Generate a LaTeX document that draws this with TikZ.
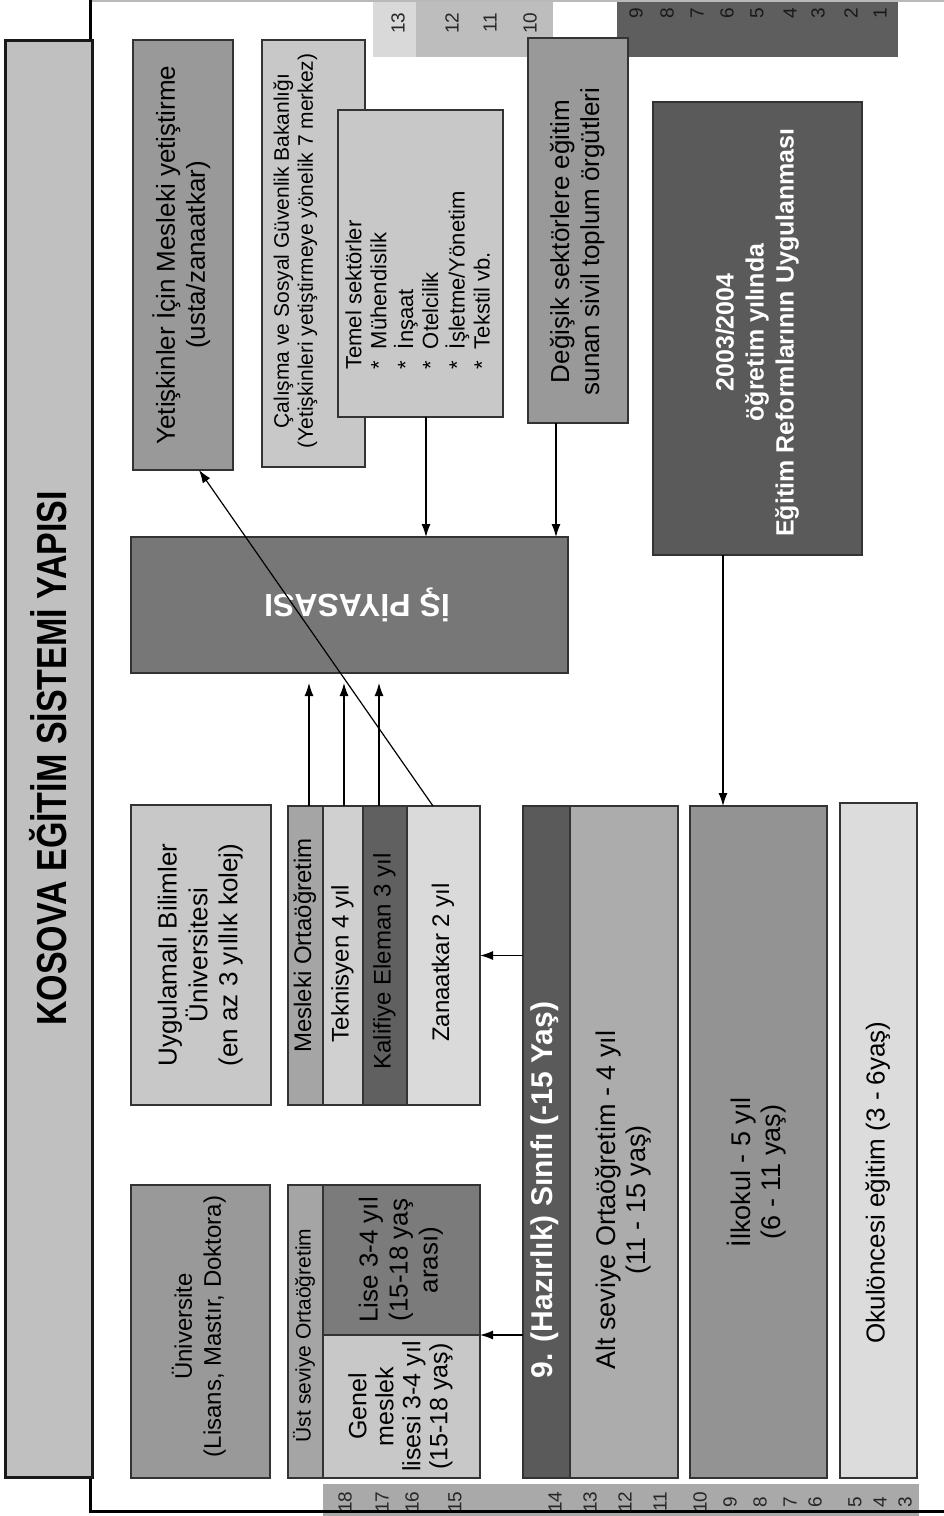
\documentclass[tikz,border=0pt]{standalone}
\usepackage{fontspec}
\setmainfont{Liberation Sans}
\usetikzlibrary{arrows.meta,calc}
\definecolor{cTitle}{HTML}{C0C0C0}
\definecolor{cMid}{HTML}{999999}
\definecolor{cLight}{HTML}{C8C8C8}
\definecolor{cRef}{HTML}{5A5A5A}
\definecolor{cIs}{HTML}{777777}
\definecolor{cMes}{HTML}{A5A5A5}
\definecolor{cTek}{HTML}{D0D0D0}
\definecolor{cKal}{HTML}{606060}
\definecolor{cZan}{HTML}{DADADA}
\definecolor{cLis}{HTML}{7B7B7B}
\definecolor{cAlt}{HTML}{ACACAC}
\definecolor{cIlk}{HTML}{939393}
\definecolor{cOku}{HTML}{DCDCDC}
\definecolor{cTa}{HTML}{D9D9D9}
\definecolor{cTb}{HTML}{BDBDBD}
\definecolor{cTdark}{HTML}{5E5E5E}
\definecolor{cBot}{HTML}{A9A9A9}
\definecolor{cLine}{HTML}{333333}
% rotated multi-line text; optional arg: extra space at the (page) top end
\newcommand\rt[2][0pt]{\rotatebox{90}{\begin{tabular}{@{}c@{}}#2\end{tabular}\hspace*{#1}}}
\newcommand\rtl[2][0pt]{\rotatebox{90}{\begin{tabular}{@{}l@{}}#2\end{tabular}\hspace*{#1}}}
\newcommand\bul{{*}\hspace{12pt}}
\begin{document}
\begin{tikzpicture}[x=1pt,y=-1pt,
  bx/.style={draw=cLine, line width=1.2pt, inner sep=0pt, outer sep=0pt, align=center, text=black},
  fa/.style={font=\fontsize{26}{30}\selectfont},
  fb/.style={font=\fontsize{24}{28}\selectfont},
  arr/.style={draw=black, line width=1.2pt, -{Latex[length=13pt,width=9pt]}},
  num/.style={font=\fontsize{19}{19}\selectfont, text=black!85, inner sep=0pt, rotate=90}
]
\useasboundingbox (0,0) rectangle (944,1516);
\fill[white] (0,0) rectangle (944,1516);

% age scales
\fill[cTa] (373,0) rectangle (416,57);
\fill[cTb] (416,0) rectangle (553,57);
\fill[cTdark] (617,0) rectangle (898,57);
\fill[cBot] (323,1484) rectangle (919,1516);
\foreach \n/\x in {13/398,12/452,11/490,10/530}
  \node[num] (t\n) at (\x,23) {\n};
\foreach \n/\x in {9/636,8/667,7/697,6/727,5/757,4/790,3/818,2/851,1/880}
  \node[num, text=black!90] (t\n) at (\x,13) {\n};
\foreach \n/\x in {18/345,17/382,16/412,15/455,14/555,13/590,12/625,11/660,10/700,9/730,8/760,7/790,6/815,5/855,4/880,3/905}
  \node[num] (b\n) at (\x,1502) {\n};

% frame
\draw[gray!55, line width=1.5pt] (90,1) -- (944,1);
\draw[black, line width=3pt] (90,0) -- (90,1511) -- (944,1511);

% title
\node[bx, draw=black!90, line width=3pt, fill=cTitle, minimum width=87pt, minimum height=1437pt] (title) at (48.5,758.5)
  {\rotatebox{90}{\fontsize{42}{42}\selectfont\bfseries\scalebox{0.81}[1]{KOSOVA EĞİTİM SİSTEMİ YAPISI}}};

% top half
\node[bx, fa, fill=cMid, minimum width=100pt, minimum height=430pt] (yet) at (183,255)
  {\rt{Yetişkinler İçin Mesleki yetiştirme\\(usta/zanaatkar)}};
\node[bx, fill=cLight, minimum width=103pt, minimum height=427pt] (cal) at (313.5,253.5) {};
\node[font=\fontsize{21}{24}\selectfont, inner sep=0pt] (calT) at (296,251)
  {\rt{Çalışma ve Sosyal Güvenlik Bakanlığı\\(Yetişkinleri yetiştirmeye yönelik 7 merkez)}};
\node[bx, font=\fontsize{22}{25}\selectfont, fill=cLight, minimum width=165pt, minimum height=307pt] (tem) at (420.5,263.5)
  {\rtl[34pt]{Temel sektörler\\\bul Mühendislik\\\bul İnşaat\\\bul Otelcilik\\\bul İşletme/Yönetim\\\bul Tekstil vb.}};
\node[bx, fa, fill=cMid, minimum width=100pt, minimum height=385pt] (deg) at (578,230.5)
  {\rt[22pt]{Değişik sektörlere eğitim\\sunan sivil toplum örgütleri}};
\node[bx, font=\fontsize{25}{30}\selectfont\bfseries, text=white, fill=cRef, minimum width=209pt, minimum height=453pt] (ref) at (757.5,328.5)
  {\rt[8pt]{2003/2004\\öğretim yılında\\Eğitim Reformlarının Uygulanması}};
\node[bx, font=\fontsize{32}{32}\selectfont\bfseries, text=white, fill=cIs, minimum width=437pt, minimum height=136pt] (is) at (349.5,605)
  {\rotatebox{180}{İŞ PİYASASI\hspace*{15pt}}};

% higher education / vocational
\node[bx, font=\fontsize{24}{29}\selectfont, fill=cMid, minimum width=139pt, minimum height=293pt] (uni) at (200.5,1331.5)
  {\rt[-10pt]{Üniversite\\(Lisans, Mastır, Doktora)}};
\node[bx, fa, fill=cLight, minimum width=140pt, minimum height=300pt] (uyg) at (201,955)
  {\rt{Uygulamalı Bilimler\\Üniversitesi\\(en az 3 yıllık kolej)}};
\node[bx, fb, fill=cMes, minimum width=35pt, minimum height=299pt] (mes) at (305.5,955.5)
  {\rt[-20pt]{Mesleki Ortaöğretim}};
\node[bx, fb, fill=cTek, minimum width=40pt, minimum height=299pt] (tek) at (343,955.5)
  {\rt[16pt]{Teknisyen 4 yıl}};
\node[bx, fb, fill=cKal, minimum width=44pt, minimum height=299pt] (kal) at (385,955.5)
  {\rt[12pt]{Kalifiye Eleman 3 yıl}};
\node[bx, fb, fill=cZan, minimum width=73pt, minimum height=299pt] (zan) at (443.5,955.5)
  {\rt[14pt]{Zanaatkar 2 yıl}};
\node[bx, font=\fontsize{21}{24}\selectfont, fill=cMes, minimum width=35pt, minimum height=293pt] (ust) at (305.5,1331.5)
  {\rt[8pt]{Üst seviye Ortaöğretim}};
\node[bx, fa, fill=cLis, minimum width=157pt, minimum height=150pt] (lis) at (401.5,1260)
  {\rt{Lise 3-4 yıl\\(15-18 yaş\\arası)}};
\node[bx, font=\fontsize{25}{27}\selectfont, fill=cLight, minimum width=157pt, minimum height=143pt] (gen) at (401.5,1406.5)
  {\rt{Genel\\meslek\\lisesi 3-4 yıl\\(15-18 yaş)}};

% compulsory education
\node[bx, font=\fontsize{30}{30}\selectfont\bfseries, text=white, fill=cRef, minimum width=47pt, minimum height=672pt] (hz) at (546.5,1142)
  {\rt[96pt]{9. (Hazırlık) Sınıfı (-15 Yaş)}};
\node[bx, font=\fontsize{27}{30}\selectfont, fill=cAlt, minimum width=108pt, minimum height=672pt] (alt) at (624,1142)
  {\rt[116pt]{Alt seviye Ortaöğretim - 4 yıl\\(11 - 15 yaş)}};
\node[bx, font=\fontsize{27}{30}\selectfont, fill=cIlk, minimum width=137pt, minimum height=672pt] (ilk) at (758.5,1142)
  {\rt[60pt]{İlkokul - 5 yıl\\(6 - 11 yaş)}};
\node[bx, fa, fill=cOku, minimum width=77pt, minimum height=675pt] (oku) at (878.5,1140.5)
  {\rt[84pt]{Okulöncesi eğitim (3 - 6yaş)}};

% connectors
\draw[arr] (hz.west |- zan.east) -- (zan.east);
\draw[arr] (hz.west |- lis.south east) -- (lis.south east);
\draw[arr] ([xshift=-34.5pt]ref.south) -- ([xshift=-34.5pt]ref.south |- ilk.north);
\draw[arr] ([xshift=5.5pt]tem.south) -- ([xshift=5.5pt]tem.south |- is.north);
\draw[arr] ([xshift=-22pt]deg.south) -- ([xshift=-22pt]deg.south |- is.north);
\draw[arr] ([xshift=3.5pt]mes.north) -- ($([xshift=3.5pt]mes.north |- is.south)+(0,10)$);
\draw[arr] ([xshift=1pt]tek.north) -- ($([xshift=1pt]tek.north |- is.south)+(0,10)$);
\draw[arr] ([xshift=-6pt]kal.north) -- ($([xshift=-6pt]kal.north |- is.south)+(0,10)$);
\draw[arr] ([xshift=-10.5pt]zan.north) -- ([xshift=16pt]yet.south);
\end{tikzpicture}
\end{document}
